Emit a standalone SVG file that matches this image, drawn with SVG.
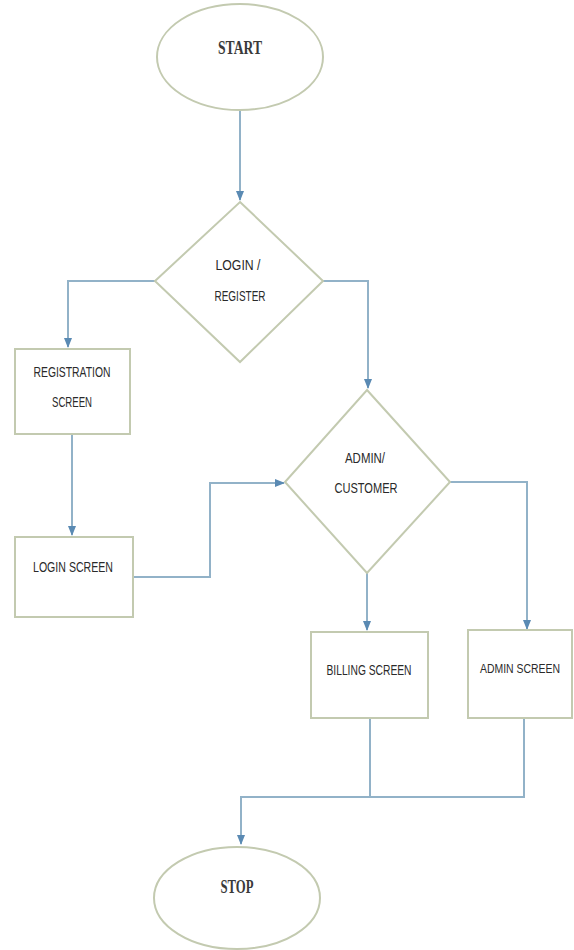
<svg xmlns="http://www.w3.org/2000/svg" width="574" height="950" viewBox="0 0 574 950">
<style>
.shape{fill:#ffffff;stroke:#c3cab0;stroke-width:2}
.conn{fill:none;stroke:#92b2c8;stroke-width:2}
.lbl{font-family:"Liberation Sans",Arial,sans-serif;font-size:14px;fill:#2a2a2a;text-anchor:middle}
.term{font-family:"Liberation Serif","Times New Roman",serif;font-size:18px;font-weight:bold;fill:#3a3a3a;text-anchor:middle}
</style>
<defs>
<marker id="arr" viewBox="0 0 10 10" refX="9" refY="5" markerWidth="5" markerHeight="5" orient="auto">
<path d="M0,1 L10,5 L0,9 z" fill="#5a8ab3"/>
</marker>
</defs>
<rect width="574" height="950" fill="#ffffff"/>
<g id="connectors">
<path class="conn" d="M240,111 V200" marker-end="url(#arr)"/>
<path class="conn" d="M155,281 H68 V347" marker-end="url(#arr)"/>
<path class="conn" d="M323,281 H368 V388" marker-end="url(#arr)"/>
<path class="conn" d="M72,434 V535" marker-end="url(#arr)"/>
<path class="conn" d="M133,577 H210 V483 H284" marker-end="url(#arr)"/>
<path class="conn" d="M450,482 H527 V629" marker-end="url(#arr)"/>
<path class="conn" d="M367,573 V630" marker-end="url(#arr)"/>
<path class="conn" d="M370,718 V797"/>
<path class="conn" d="M524,718 V797 H241 V844" marker-end="url(#arr)"/>
</g>
<g id="start">
<ellipse class="shape" cx="240" cy="57" rx="83" ry="53"/>
<text class="term" x="240" y="54" textLength="44" lengthAdjust="spacingAndGlyphs">START</text>
</g>
<g id="login-register">
<polygon class="shape" points="240,202 323,281 240,362 155,281"/>
<text class="lbl" x="238" y="270" textLength="45" lengthAdjust="spacingAndGlyphs">LOGIN /</text>
<text class="lbl" x="240" y="301" textLength="51" lengthAdjust="spacingAndGlyphs">REGISTER</text>
</g>
<g id="registration-screen">
<rect class="shape" x="15" y="349" width="115" height="85"/>
<text class="lbl" x="72" y="377" textLength="77" lengthAdjust="spacingAndGlyphs">REGISTRATION</text>
<text class="lbl" x="72" y="407" textLength="40" lengthAdjust="spacingAndGlyphs">SCREEN</text>
</g>
<g id="login-screen">
<rect class="shape" x="15" y="537" width="118" height="80"/>
<text class="lbl" x="73" y="572" textLength="80" lengthAdjust="spacingAndGlyphs">LOGIN SCREEN</text>
</g>
<g id="admin-customer">
<polygon class="shape" points="367,390 450,482 367,573 285,482"/>
<text class="lbl" x="365" y="463" textLength="40" lengthAdjust="spacingAndGlyphs">ADMIN/</text>
<text class="lbl" x="366" y="493" textLength="63" lengthAdjust="spacingAndGlyphs">CUSTOMER</text>
</g>
<g id="billing-screen">
<rect class="shape" x="311" y="632" width="117" height="86"/>
<text class="lbl" x="369" y="675" textLength="85" lengthAdjust="spacingAndGlyphs">BILLING SCREEN</text>
</g>
<g id="admin-screen">
<rect class="shape" x="468" y="630" width="104" height="88"/>
<text class="lbl" x="520" y="673" style="font-size:12.5px" textLength="80" lengthAdjust="spacingAndGlyphs">ADMIN SCREEN</text>
</g>
<g id="stop">
<ellipse class="shape" cx="237" cy="898" rx="83" ry="51"/>
<text class="term" x="237" y="893" textLength="33" lengthAdjust="spacingAndGlyphs">STOP</text>
</g>
</svg>
